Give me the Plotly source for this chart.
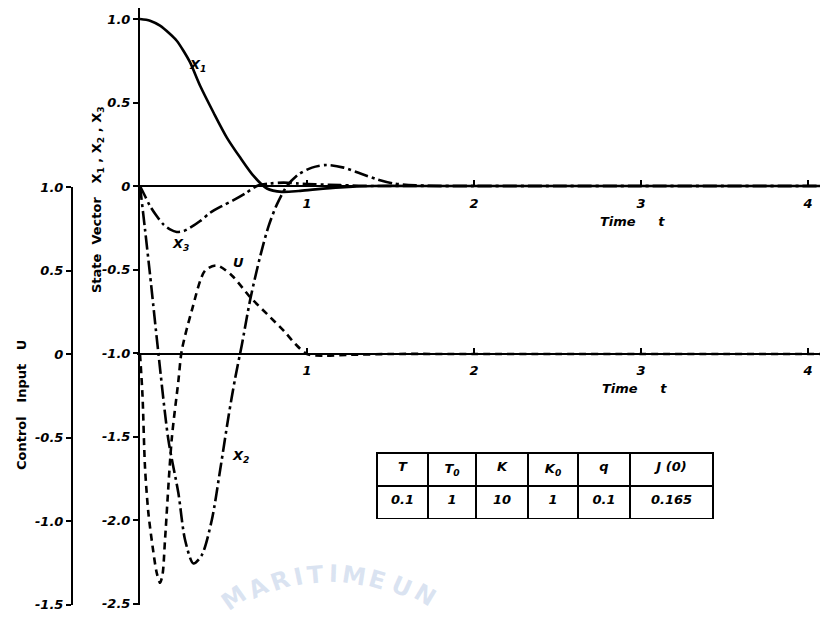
import plotly.graph_objects as go

# ---------------- data ----------------
t_x1 = [0, 0.06, 0.12, 0.18, 0.22, 0.26, 0.30, 0.36, 0.44, 0.52, 0.60, 0.68, 0.76, 0.85, 0.95, 1.05, 1.2, 1.4, 1.7, 2.0, 2.5, 3.0, 3.5, 4.12]
x1 = [1.0, 0.99, 0.96, 0.91, 0.87, 0.81, 0.74, 0.60, 0.44, 0.29, 0.17, 0.06, -0.015, -0.035, -0.03, -0.02, -0.008, 0.0, 0.0, 0.0, 0.0, 0.0, 0.0, 0.0]

t_x2 = [0, 0.03, 0.06, 0.11, 0.17, 0.23, 0.27, 0.32, 0.37, 0.43, 0.48, 0.53, 0.57, 0.61, 0.66, 0.72, 0.77, 0.82, 0.88, 0.95, 1.03, 1.12, 1.22, 1.32, 1.42, 1.52, 1.65, 1.8, 2.0, 2.5, 3.0, 3.5, 4.12]
x2 = [0, -0.26, -0.53, -1.0, -1.52, -1.84, -2.12, -2.26, -2.21, -2.0, -1.70, -1.38, -1.15, -0.95, -0.68, -0.42, -0.24, -0.11, 0.0, 0.07, 0.11, 0.126, 0.11, 0.075, 0.04, 0.015, 0.004, 0.0, 0.0, 0.0, 0.0, 0.0, 0.0]

t_x3 = [0, 0.03, 0.06, 0.10, 0.14, 0.18, 0.22, 0.26, 0.30, 0.36, 0.42, 0.49, 0.56, 0.63, 0.70, 0.78, 0.86, 0.95, 1.05, 1.2, 1.4, 1.7, 2.0, 2.5, 3.0, 3.5, 4.12]
x3 = [0, -0.06, -0.12, -0.18, -0.23, -0.26, -0.275, -0.27, -0.25, -0.21, -0.16, -0.12, -0.085, -0.045, 0.0, 0.015, 0.02, 0.015, 0.01, 0.005, 0.0, 0.0, 0.0, 0.0, 0.0, 0.0, 0.0]

t_u = [0, 0.015, 0.03, 0.05, 0.075, 0.10, 0.12, 0.135, 0.15, 0.19, 0.23, 0.25, 0.31, 0.39, 0.46, 0.55, 0.66, 0.76, 0.86, 0.93, 1.0, 1.1, 1.25, 1.5, 2.0, 2.5, 3.0, 3.5, 4.12]
u = [0, -0.25, -0.68, -0.95, -1.15, -1.31, -1.37, -1.32, -1.11, -0.51, -0.16, 0.02, 0.26, 0.50, 0.53, 0.47, 0.34, 0.24, 0.14, 0.06, 0.0, -0.01, -0.005, 0.0, 0.0, 0.0, 0.0, 0.0, 0.0]

state_ticks = [1.0, 0.5, 0, -0.5, -1.0, -1.5, -2.0, -2.5]
state_ticktext = ["1.0", "0.5", "0", "-0.5", "-1.0", "-1.5", "-2.0", "-2.5"]
control_ticks = [1.0, 0.5, 0, -0.5, -1.0, -1.5]
control_ticktext = ["1.0", "0.5", "0", "-0.5", "-1.0", "-1.5"]
time_ticks = [1, 2, 3, 4]
time_ticktext = ["1", "2", "3", "4"]

table_headers = ["T", "T<sub>0</sub>", "K", "K<sub>0</sub>", "q", "J (0)"]
table_values = ["0.1", "1", "10", "1", "0.1", "0.165"]

# ---------------- geometry helpers ----------------
W, H = 828, 621
OFF = 8  # page offset of the plot inside the browser window
def px(x):
    return (x - OFF) / W
def py(y):
    return 1 - (y - OFF) / H

X0 = 140.0      # pixel of t = 0
SX = 167.0      # pixels per unit time
SY = 167.0      # pixels per unit value
Y0_STATE = 186.0
Y0_CTRL = 354.0

t_left = (137 - X0) / SX
t_right = (W + OFF - X0) / SX

fnt = dict(family="DejaVu Sans", size=13, color="black", style="italic", weight="bold")

fig = go.Figure()

fig.add_trace(go.Scatter(x=t_x1, y=x1, mode="lines", line=dict(color="black", width=2.6, shape="spline", smoothing=0.8),
                         xaxis="x", yaxis="y", showlegend=False, hoverinfo="skip"))
fig.add_trace(go.Scatter(x=t_x2, y=x2, mode="lines", line=dict(color="black", width=2.6, shape="spline", smoothing=0.8, dash="14px,4px,3px,4px"),
                         xaxis="x", yaxis="y", showlegend=False, hoverinfo="skip"))
fig.add_trace(go.Scatter(x=t_x3, y=x3, mode="lines", line=dict(color="black", width=2.6, shape="spline", smoothing=0.8, dash="14px,4px,3px,4px"),
                         xaxis="x", yaxis="y", showlegend=False, hoverinfo="skip"))
fig.add_trace(go.Scatter(x=t_u, y=u, mode="lines", line=dict(color="black", width=2.6, shape="spline", smoothing=0.8, dash="7px,5px"),
                         xaxis="x2", yaxis="y2", showlegend=False, hoverinfo="skip"))

fig.add_trace(go.Table(
    domain=dict(x=[px(377), px(713)], y=[py(519), py(453)]),
    columnwidth=[51, 48, 52, 50, 52, 83],
    header=dict(values=table_headers, height=33, align="center",
                line=dict(color="black", width=2), fill=dict(color="white"), font=fnt),
    cells=dict(values=[[v] for v in table_values], height=33, align="center",
               line=dict(color="black", width=2), fill=dict(color="white"), font=fnt),
))

axis_common = dict(showline=True, linecolor="black", linewidth=2, showgrid=False, zeroline=False,
                   tickfont=fnt, tickcolor="black", tickwidth=2, ticklen=5, fixedrange=True, automargin=False)

state_lo = (Y0_STATE - 605) / SY
state_hi = (Y0_STATE - 8) / SY
ctrl_lo = (Y0_CTRL - 605) / SY
ctrl_hi = (Y0_CTRL - 187) / SY

fig.update_layout(
    width=W, height=H, autosize=False,
    margin=dict(l=0, r=0, t=0, b=0, pad=0, autoexpand=False),
    paper_bgcolor="white", plot_bgcolor="rgba(0,0,0,0)",
    xaxis=dict(domain=[px(137), 1], range=[t_left, t_right], anchor="free", position=py(Y0_STATE),
               tickvals=time_ticks, ticktext=time_ticktext, ticks="inside", ticklabelstandoff=5, **axis_common),
    xaxis2=dict(domain=[px(137), 1], range=[t_left, t_right], anchor="free", position=py(Y0_CTRL),
                tickvals=time_ticks, ticktext=time_ticktext, ticks="inside", ticklabelstandoff=4, **axis_common),
    yaxis=dict(domain=[py(605), py(8)], range=[state_lo, state_hi], anchor="free", position=px(139),
               tickvals=state_ticks, ticktext=state_ticktext, ticks="outside", **axis_common),
    yaxis2=dict(domain=[py(605), py(187)], range=[ctrl_lo, ctrl_hi], anchor="free", position=px(72),
                tickvals=control_ticks, ticktext=control_ticktext, ticks="outside", **axis_common),
)

ann = []
def label(text, x, y, size=13, angle=0, color="black", weight="bold", style="italic"):
    ann.append(dict(text=text, x=px(x), y=py(y), xref="paper", yref="paper", showarrow=False,
                    textangle=angle, xanchor="center", yanchor="middle",
                    font=dict(family="DejaVu Sans", size=size, color=color, weight=weight, style=style)))

label("X<sub>1</sub>", 197, 66)
label("X<sub>3</sub>", 180, 245)
label("U", 238, 262)
label("X<sub>2</sub>", 240, 456)
label("Time&nbsp;&nbsp;&nbsp;&nbsp;&nbsp;t", 632, 222)
label("Time&nbsp;&nbsp;&nbsp;&nbsp;&nbsp;t", 634, 389)
label("State&nbsp;&nbsp;Vector&nbsp;&nbsp;&nbsp;X<sub>1</sub> , X<sub>2</sub> , X<sub>3</sub>", 97, 200, size=13, angle=-90, style="normal")
label("Control&nbsp;&nbsp;&nbsp;Input&nbsp;&nbsp;&nbsp;U", 22, 405, size=13, angle=-90, style="normal")

# faint watermark of the scanned source
wm_letters = ["M", "A", "R", "I", "T", "I", "M", "E", "U", "N"]
wm_x = [234, 258, 280, 298, 315, 333, 354, 377, 402, 425]
wm_y = [598, 588, 581, 577, 575, 574, 576, 580, 587, 595]
wm_a = [-35, -27, -19, -12, -5, 2, 9, 16, 24, 31]
for ch, x, y, a in zip(wm_letters, wm_x, wm_y, wm_a):
    label(ch, x, y, size=24, angle=a, color="rgba(150,175,215,0.35)", style="normal")

fig.update_layout(annotations=ann)

fig.write_html("out.html")
